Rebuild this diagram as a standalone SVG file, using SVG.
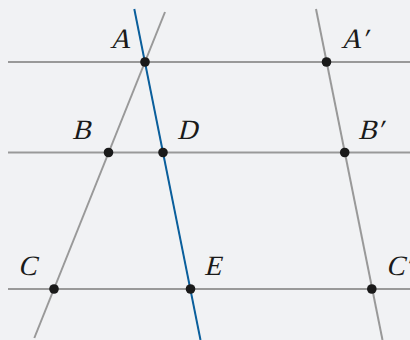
<svg xmlns="http://www.w3.org/2000/svg" width="410" height="340" viewBox="0 0 410 340">
<style>
.g{stroke:#999;stroke-width:2;fill:none}
.b{stroke:#0b5f9c;stroke-width:2;fill:none}
.p{fill:#1a1a1a}
.t{font-family:'Liberation Serif','Times New Roman',serif;font-size:28px;fill:#1a1a1a}
</style>
<rect width="410" height="340" fill="#f1f2f4"/>
<g id="connectors">
<line class="g" x1="8" y1="62" x2="410" y2="62"/>
<line class="g" x1="8" y1="152.5" x2="410" y2="152.5"/>
<line class="g" x1="8" y1="289" x2="410" y2="289"/>
<line class="g" x1="165" y1="12" x2="34.3" y2="338"/>
<line class="g" x1="316" y1="9" x2="382.5" y2="340"/>
<line class="b" x1="134.3" y1="9" x2="200.5" y2="340"/>
</g>
<g id="A"><circle class="p" cx="145" cy="62" r="4.8"/><text class="t" transform="translate(110,47.5) skewX(-14)">A</text></g>
<g id="B"><circle class="p" cx="108.5" cy="152.5" r="4.8"/><text class="t" transform="translate(72,139) skewX(-14)">B</text></g>
<g id="C"><circle class="p" cx="54" cy="289" r="4.8"/><text class="t" transform="translate(18,275) skewX(-14)">C</text></g>
<g id="D"><circle class="p" cx="163" cy="152.5" r="4.8"/><text class="t" transform="translate(177,139) skewX(-14)">D</text></g>
<g id="E"><circle class="p" cx="190.5" cy="289" r="4.8"/><text class="t" transform="translate(204,275) skewX(-14)">E</text></g>
<g id="A2"><circle class="p" cx="326.5" cy="62" r="4.8"/><text class="t" transform="translate(341,47.5) skewX(-14)">A′</text></g>
<g id="B2"><circle class="p" cx="344.7" cy="152.5" r="4.8"/><text class="t" transform="translate(358,138.5) skewX(-14)">B′</text></g>
<g id="C2"><circle class="p" cx="371.8" cy="289" r="4.8"/><text class="t" transform="translate(386,275) skewX(-14)">C′</text></g>
</svg>
